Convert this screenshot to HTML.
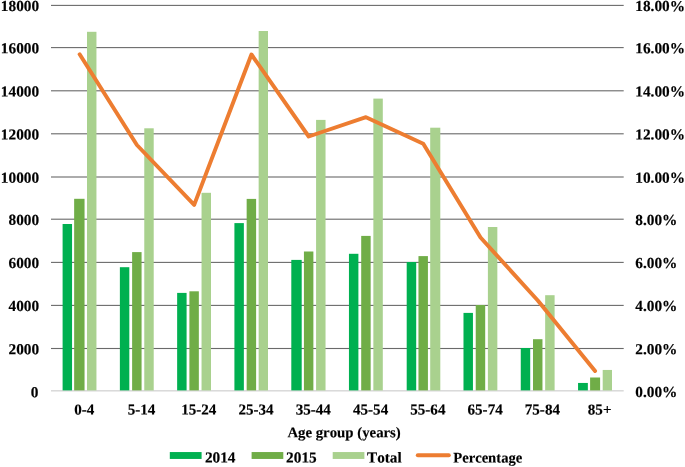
<!DOCTYPE html>
<html><head><meta charset="utf-8"><title>Chart</title>
<style>html,body{margin:0;padding:0;background:#fff;}body{width:685px;height:467px;overflow:hidden;font-family:"Liberation Serif",serif;}svg{display:block;will-change:transform;}</style></head>
<body>
<svg width="685" height="467" viewBox="0 0 685 467">
<rect width="685" height="467" fill="#ffffff"/>
<g fill="#6a6a6a">
<rect x="51.0" y="347.95" width="572.7" height="1.1"/>
<rect x="51.0" y="304.85" width="572.7" height="1.1"/>
<rect x="51.0" y="261.85" width="572.7" height="1.1"/>
<rect x="51.0" y="218.65" width="572.7" height="1.1"/>
<rect x="51.0" y="176.45" width="572.7" height="1.1"/>
<rect x="51.0" y="133.25" width="572.7" height="1.1"/>
<rect x="51.0" y="90.25" width="572.7" height="1.1"/>
<rect x="51.0" y="47.05" width="572.7" height="1.1"/>
<rect x="51.0" y="4.85" width="572.7" height="1.1"/>
</g>
<rect x="51.0" y="390.10" width="572.7" height="1.4" fill="#d6d6d6"/>
<g fill="#00B050">
<rect x="62.60" y="224.00" width="9.45" height="166.40"/>
<rect x="119.87" y="267.20" width="9.45" height="123.20"/>
<rect x="177.14" y="292.90" width="9.45" height="97.50"/>
<rect x="234.41" y="223.10" width="9.45" height="167.30"/>
<rect x="291.30" y="259.90" width="10.4" height="130.50"/>
<rect x="348.95" y="253.80" width="9.45" height="136.60"/>
<rect x="406.70" y="262.00" width="9.5" height="128.40"/>
<rect x="463.49" y="312.90" width="9.45" height="77.50"/>
<rect x="520.76" y="348.00" width="9.45" height="42.40"/>
<rect x="578.05" y="382.95" width="9.8" height="7.45"/>
</g>
<g fill="#70AD47">
<rect x="74.15" y="198.80" width="10.4" height="191.60"/>
<rect x="132.12" y="252.10" width="9.45" height="138.30"/>
<rect x="189.39" y="291.30" width="9.45" height="99.10"/>
<rect x="246.66" y="198.90" width="9.45" height="191.50"/>
<rect x="303.93" y="251.50" width="9.45" height="138.90"/>
<rect x="361.20" y="235.90" width="9.45" height="154.50"/>
<rect x="418.47" y="256.10" width="9.45" height="134.30"/>
<rect x="475.74" y="305.00" width="9.45" height="85.40"/>
<rect x="533.01" y="339.20" width="9.45" height="51.20"/>
<rect x="590.10" y="377.50" width="10.0" height="12.90"/>
</g>
<g fill="#A9D18E">
<rect x="87.00" y="31.80" width="9.45" height="358.60"/>
<rect x="144.27" y="128.30" width="9.45" height="262.10"/>
<rect x="201.54" y="192.80" width="9.45" height="197.60"/>
<rect x="258.65" y="31.00" width="9.35" height="359.40"/>
<rect x="316.08" y="119.90" width="9.45" height="270.50"/>
<rect x="373.35" y="98.60" width="9.45" height="291.80"/>
<rect x="430.20" y="127.70" width="10.1" height="262.70"/>
<rect x="487.89" y="227.00" width="9.45" height="163.40"/>
<rect x="545.16" y="295.20" width="9.45" height="95.20"/>
<rect x="602.70" y="369.95" width="9.3" height="20.45"/>
</g>
<polyline points="79.64,54.30 136.91,145.00 194.18,204.90 251.45,54.50 308.72,136.50 365.99,117.20 423.25,143.80 480.53,237.50 537.80,300.50 595.07,371.00" fill="none" stroke="#ED7D31" stroke-width="3.95" stroke-linecap="round" stroke-linejoin="round"/>
<g font-family="'Liberation Serif', serif" font-weight="bold" font-size="14.8px" fill="#000" stroke="#000" stroke-width="0.15" style="font-kerning:none">
<text transform="rotate(0.03 38.300000000000004 397.20)" x="38.300000000000004" y="397.20" text-anchor="end" font-size="15.3px">0</text>
<text transform="rotate(0.03 635.3 397.10)" x="635.3" y="397.10" font-size="15.3px">0.00%</text>
<text transform="rotate(0.03 39.1 354.20)" x="39.1" y="354.20" text-anchor="end" font-size="15.3px">2000</text>
<text transform="rotate(0.03 635.3 354.20)" x="635.3" y="354.20" font-size="15.3px">2.00%</text>
<text transform="rotate(0.03 39.1 311.10)" x="39.1" y="311.10" text-anchor="end" font-size="15.3px">4000</text>
<text transform="rotate(0.03 635.3 311.10)" x="635.3" y="311.10" font-size="15.3px">4.00%</text>
<text transform="rotate(0.03 39.1 268.10)" x="39.1" y="268.10" text-anchor="end" font-size="15.3px">6000</text>
<text transform="rotate(0.03 635.3 268.10)" x="635.3" y="268.10" font-size="15.3px">6.00%</text>
<text transform="rotate(0.03 39.1 224.90)" x="39.1" y="224.90" text-anchor="end" font-size="15.3px">8000</text>
<text transform="rotate(0.03 635.3 224.90)" x="635.3" y="224.90" font-size="15.3px">8.00%</text>
<text transform="rotate(0.03 39.1 182.70)" x="39.1" y="182.70" text-anchor="end" font-size="15.3px">10000</text>
<text transform="rotate(0.03 635.3 182.70)" x="635.3" y="182.70" font-size="15.3px">10.00%</text>
<text transform="rotate(0.03 39.1 139.50)" x="39.1" y="139.50" text-anchor="end" font-size="15.3px">12000</text>
<text transform="rotate(0.03 635.3 139.50)" x="635.3" y="139.50" font-size="15.3px">12.00%</text>
<text transform="rotate(0.03 39.1 96.50)" x="39.1" y="96.50" text-anchor="end" font-size="15.3px">14000</text>
<text transform="rotate(0.03 635.3 96.50)" x="635.3" y="96.50" font-size="15.3px">14.00%</text>
<text transform="rotate(0.03 39.1 53.30)" x="39.1" y="53.30" text-anchor="end" font-size="15.3px">16000</text>
<text transform="rotate(0.03 635.3 53.30)" x="635.3" y="53.30" font-size="15.3px">16.00%</text>
<text transform="rotate(0.03 39.1 11.10)" x="39.1" y="11.10" text-anchor="end" font-size="15.3px">18000</text>
<text transform="rotate(0.03 635.3 11.10)" x="635.3" y="11.10" font-size="15.3px">18.00%</text>
<text transform="rotate(0.03 84.23 414.5)" x="84.23" y="414.5" text-anchor="middle" font-size="15.1px">0-4</text>
<text transform="rotate(0.03 141.50 414.5)" x="141.50" y="414.5" text-anchor="middle" font-size="15.1px">5-14</text>
<text transform="rotate(0.03 198.78 414.5)" x="198.78" y="414.5" text-anchor="middle" font-size="15.1px">15-24</text>
<text transform="rotate(0.03 256.05 414.5)" x="256.05" y="414.5" text-anchor="middle" font-size="15.1px">25-34</text>
<text transform="rotate(0.03 313.32 414.5)" x="313.32" y="414.5" text-anchor="middle" font-size="15.1px">35-44</text>
<text transform="rotate(0.03 370.59 414.5)" x="370.59" y="414.5" text-anchor="middle" font-size="15.1px">45-54</text>
<text transform="rotate(0.03 427.86 414.5)" x="427.86" y="414.5" text-anchor="middle" font-size="15.1px">55-64</text>
<text transform="rotate(0.03 485.13 414.5)" x="485.13" y="414.5" text-anchor="middle" font-size="15.1px">65-74</text>
<text transform="rotate(0.03 542.40 414.5)" x="542.40" y="414.5" text-anchor="middle" font-size="15.1px">75-84</text>
<text transform="rotate(0.03 599.67 414.5)" x="599.67" y="414.5" text-anchor="middle" font-size="15.1px">85+</text>
<text transform="rotate(0.03 344.1 437.3)" x="344.1" y="437.3" text-anchor="middle">Age group (years)</text>
<text transform="rotate(0.03 204.9 462.5)" x="204.9" y="462.5" font-size="15.3px">2014</text>
<text transform="rotate(0.03 286.1 462.5)" x="286.1" y="462.5" font-size="15.3px">2015</text>
<text transform="rotate(0.03 367.0 462.5)" x="367.0" y="462.5" font-size="15.2px">Total</text>
<text transform="rotate(0.03 453.2 462.4)" x="453.2" y="462.4" font-size="14.65px">Percentage</text>
</g>
<rect x="169.8" y="452.05" width="31.8" height="6.9" fill="#00B050"/>
<rect x="251.6" y="452.05" width="31.7" height="6.9" fill="#70AD47"/>
<rect x="332.7" y="452.05" width="31.7" height="6.9" fill="#A9D18E"/>
<line x1="417.8" x2="448.8" y1="455.35" y2="455.35" stroke="#ED7D31" stroke-width="4.0" stroke-linecap="round"/>
</svg>
</body></html>
